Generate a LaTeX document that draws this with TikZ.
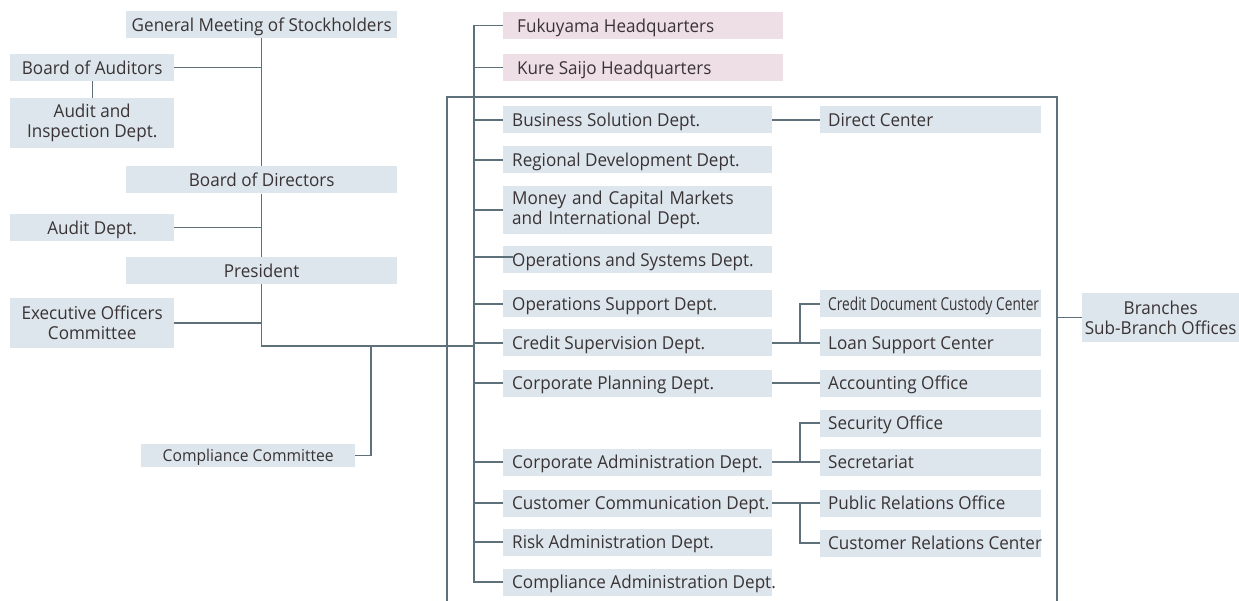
\documentclass[tikz,border=0pt]{standalone}
\usepackage{fontspec}
\setmainfont{Open Sans}[FakeStretch=0.96]
\newfontfamily\condfont{Open Sans}[FakeStretch=0.77]
\definecolor{boxc}{HTML}{DCE6EC}
\definecolor{pinkc}{HTML}{EDDFE5}
\definecolor{linec}{HTML}{5E7079}
\definecolor{txt}{HTML}{3A3335}
\begin{document}
\begin{tikzpicture}[x=1pt,y=-1pt,
  every node/.style={font=\fontsize{17.8}{20}\selectfont, text=txt},
  base/.style={fill=boxc, inner ysep=0pt, anchor=west, minimum height=27pt},
  oneline/.style={text height=15.5pt, text depth=2pt},
  lbox/.style={base, inner xsep=0pt, minimum width=164pt, align=center},
  cbox/.style={base, inner xsep=0pt, minimum width=271pt, align=center, oneline},
  lefttext/.style={execute at begin node={\hbox to #1\bgroup}, execute at end node={\hss\egroup}},
  dbox/.style={base, inner xsep=9pt, lefttext=251pt, oneline},
  dboxtwo/.style={base, inner xsep=9pt, text width=251pt, align=left},
  hqbox/.style={base, fill=pinkc, inner xsep=14pt, lefttext=252pt, oneline},
  sbox/.style={base, inner xsep=8pt, lefttext=205pt, oneline},
  conn/.style={draw=linec, line width=1.3pt},
  frame/.style={draw=linec, line width=2pt}]
\useasboundingbox (0,0) rectangle (1239,601);
% left column
\node[cbox] (gm) at (126,24.5) {General Meeting of Stockholders};
\node[lbox, oneline] (boa) at (10,67.5) {Board of Auditors};
\node[lbox, minimum height=50pt] (aid) at (10,123) {Audit and\\Inspection Dept.};
\node[cbox] (bod) at (126,180) {Board of Directors};
\node[lbox, oneline] (aud) at (10,227.5) {Audit Dept.};
\node[cbox] (pres) at (126,270.5) {President};
\node[lbox, minimum height=50pt] (eoc) at (10,323) {Executive Officers\\Committee};
\node[base, minimum height=23pt, inner xsep=0pt, minimum width=214pt, align=center, text height=14pt, text depth=1.4pt, font=\fontsize{16.3}{19}\selectfont] (cc) at (141,455.5) {Compliance Committee};
% headquarters and departments
\node[hqbox] (fuku) at (503,25.5) {Fukuyama Headquarters};
\node[hqbox] (kure) at (503,67.5) {Kure Saijo Headquarters};
\node[dbox] (bsd) at (503,120) {Business Solution Dept.};
\node[dbox] (rdd) at (503,160) {Regional Development Dept.};
\node[dboxtwo, minimum height=48pt] (mcm) at (503,210) {Money and Capital Markets\\and International Dept.};
\node[dbox] (osd) at (503,260) {Operations and Systems Dept.};
\node[dbox] (osup) at (503,304) {Operations Support Dept.};
\node[dbox] (csd) at (503,343) {Credit Supervision Dept.};
\node[dbox] (cpd) at (503,383) {Corporate Planning Dept.};
\node[dbox] (cad) at (503,462) {Corporate Administration Dept.};
\node[dbox] (ccd) at (503,503) {Customer Communication Dept.};
\node[dbox] (rad) at (503,542) {Risk Administration Dept.};
\node[dbox] (cmd) at (503,582) {Compliance Administration Dept.};
% sub units
\node[sbox] (dc) at (820,120) {Direct Center};
\node[sbox, font=\condfont\fontsize{17.8}{20}\selectfont] (cdcc) at (820,304) {Credit Document Custody Center};
\node[sbox] (lsc) at (820,343) {Loan Support Center};
\node[sbox] (acc) at (820,383) {Accounting Office};
\node[sbox] (sec) at (820,423) {Security Office};
\node[sbox] (secr) at (820,462) {Secretariat};
\node[sbox] (pro) at (820,503) {Public Relations Office};
\node[sbox] (crc) at (820,543) {Customer Relations Center};
\node[base, inner xsep=0pt, minimum width=157pt, align=center, minimum height=49pt] (br) at (1082,317.5) {Branches\\Sub-Branch Offices};
% coordinates
\coordinate (sp) at (474,0);
\coordinate (bx) at (800,0);
\coordinate (j) at (474,346);
\coordinate (cj) at (371,346);
\coordinate (fbl) at (447,601);
\coordinate (ftl) at (447,97);
\coordinate (ftr) at (1057,97);
\coordinate (fbr) at (1057,601);
% left connectors
\draw[conn] (gm.south) -- (bod.north);
\draw[conn] (boa.east) -- (boa.east -| gm.south);
\draw[conn] (boa.south) -- (aid.north);
\draw[conn] (bod.south) -- (pres.north);
\draw[conn] (aud.east) -- (aud.east -| bod.south);
\draw[conn] (eoc.east) -- (eoc.east -| pres.south);
\draw[conn] (pres.south) |- (j);
\draw[conn] (cc.east) -| (cj);
% frame
\draw[frame] (fbl) -- (ftl) -- (ftr) -- (fbr);
\draw[conn] (br.west -| ftr) -- (br.west);
% spine
\draw[conn] (fuku.west) -- (fuku.west -| sp) -- (cmd.west -| sp) -- (cmd.west);
\foreach \n in {kure,bsd,rdd,mcm,osup,csd,cpd,cad,ccd,rad}
  \draw[conn] (\n.west -| sp) -- (\n.west);
\draw[conn] ([yshift=3pt]osd.west -| sp) -- ([xshift=10pt,yshift=3pt]osd.west);
% right connectors
\draw[conn] (bsd.east) -- (dc.west);
\draw[conn] (csd.east) -- (lsc.west);
\draw[conn] (cdcc.west) -- (cdcc.west -| bx) -- (lsc.west -| bx);
\draw[conn] (cpd.east) -- (acc.west);
\draw[conn] (cad.east) -- (secr.west);
\draw[conn] (sec.west) -- (sec.west -| bx) -- (secr.west -| bx);
\draw[conn] (ccd.east) -- (pro.west);
\draw[conn] (pro.west -| bx) -- (crc.west -| bx) -- (crc.west);
\end{tikzpicture}
\end{document}
